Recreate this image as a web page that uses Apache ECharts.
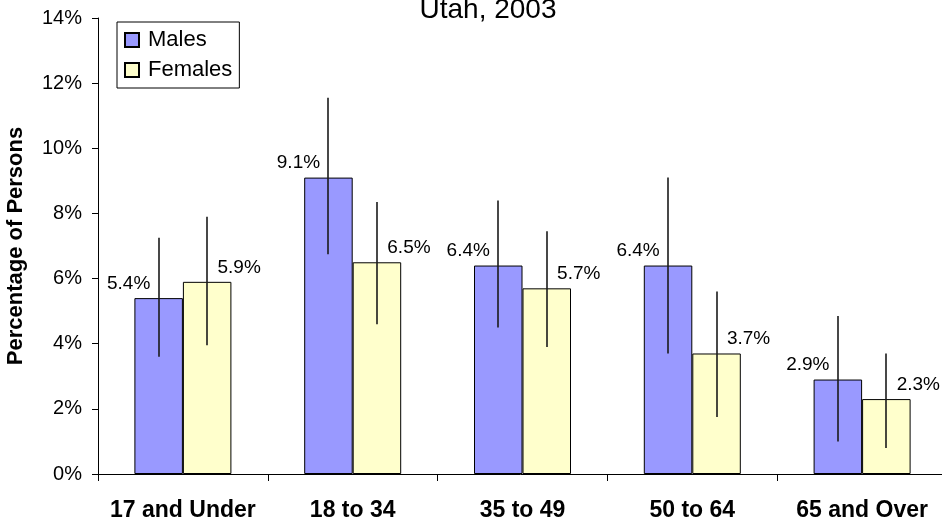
<!DOCTYPE html>
<html>
<head>
<meta charset="utf-8">
<script src="https://cdn.jsdelivr.net/npm/echarts@6/dist/echarts.min.js"></script>
<style>
html,body{margin:0;padding:0;background:#fff;}
#chart{width:942px;height:523px;}
</style>
</head>
<body>
<div id="chart"></div>
<script>
const categories = ['17 and Under', '18 to 34', '35 to 49', '50 to 64', '65 and Over'];
const maleValues = [5.4, 9.1, 6.4, 6.4, 2.9];
const femaleValues = [5.9, 6.5, 5.7, 3.7, 2.3];
const maleLow = [3.6, 6.75, 4.5, 3.7, 1.0];
const maleHigh = [7.25, 11.55, 8.4, 9.1, 4.85];
const femaleLow = [3.95, 4.6, 3.9, 1.75, 0.8];
const femaleHigh = [7.9, 8.35, 7.45, 5.6, 3.7];
const yTicks = [0, 2, 4, 6, 8, 10, 12, 14];

const FONT = 'Liberation Sans, Arial, sans-serif';
const BAR_W = 48.5;

function errSeries(low, high, offset) {
  return {
    type: 'custom',
    z: 10,
    silent: true,
    data: low.map((l, i) => [i, l, high[i]]),
    encode: { x: 0, y: [1, 2] },
    renderItem: function (params, api) {
      const c = api.value(0);
      const p1 = api.coord([c, api.value(1)]);
      const p2 = api.coord([c, api.value(2)]);
      const x = Math.round(p1[0] + offset);
      return {
        type: 'line',
        shape: { x1: x, y1: p1[1], x2: x, y2: p2[1] },
        style: { stroke: '#1a1a1a', lineWidth: 1.6 }
      };
    }
  };
}

const chart = echarts.init(document.getElementById('chart'), null, { renderer: 'canvas' });
chart.setOption({
  animation: false,
  backgroundColor: '#fff',
  textStyle: { fontFamily: FONT },
  graphic: [{
    type: 'text',
    x: 488,
    y: 24,
    style: { text: 'Utah, 2003', font: '28px ' + FONT, fill: '#000', textAlign: 'center', textVerticalAlign: 'bottom' }
  }],
  legend: {
    orient: 'vertical',
    left: 117,
    top: 22,
    padding: [7, 7, 7, 7],
    itemGap: 8,
    itemWidth: 14,
    itemHeight: 14,
    borderColor: '#000',
    borderWidth: 1,
    backgroundColor: '#fff',
    icon: 'rect',
    textStyle: { fontSize: 22, color: '#000', fontFamily: FONT, padding: [0, 0, 0, 4] },
    data: ['Males', 'Females']
  },
  grid: { left: 98, top: 18, height: 456, width: 849, containLabel: false, outerBoundsMode: 'none' },
  xAxis: {
    type: 'category',
    data: categories,
    axisLine: { lineStyle: { color: '#000', width: 1 } },
    axisTick: { show: true, interval: 0, length: 7, lineStyle: { color: '#000' } },
    axisLabel: { interval: 0, hideOverlap: false, fontSize: 23, fontWeight: 'bold', color: '#000', margin: 25, fontFamily: FONT }
  },
  yAxis: {
    type: 'value',
    min: 0,
    max: 14,
    interval: 2,
    name: 'Percentage of Persons',
    nameLocation: 'middle',
    nameGap: 71,
    nameTextStyle: { fontSize: 22, fontWeight: 'bold', color: '#000', fontFamily: FONT },
    axisLine: { show: true, lineStyle: { color: '#000', width: 1 } },
    axisTick: { show: true, length: 6, lineStyle: { color: '#000' } },
    splitLine: { show: false },
    axisLabel: {
      fontSize: 20, color: '#000', margin: 16, fontFamily: FONT,
      formatter: v => (yTicks.includes(v) ? v + '%' : '')
    }
  },
  series: [
    {
      name: 'Males',
      type: 'bar',
      data: maleValues,
      barWidth: BAR_W,
      barGap: '0%',
      itemStyle: { color: '#9999FF', borderColor: '#000', borderWidth: 1 },
      label: {
        show: true, position: 'top', offset: [-30, 0], distance: 5,
        fontSize: 19, color: '#000', fontFamily: FONT,
        formatter: p => p.value.toFixed(1) + '%'
      }
    },
    {
      name: 'Females',
      type: 'bar',
      data: femaleValues,
      barWidth: BAR_W,
      barGap: '0%',
      itemStyle: { color: '#FFFFCC', borderColor: '#000', borderWidth: 1 },
      label: {
        show: true, position: 'top', offset: [32, 0], distance: 5,
        fontSize: 19, color: '#000', fontFamily: FONT,
        formatter: p => p.value.toFixed(1) + '%'
      }
    },
    errSeries(maleLow, maleHigh, -BAR_W / 2),
    errSeries(femaleLow, femaleHigh, BAR_W / 2)
  ]
});
</script>
</body>
</html>
